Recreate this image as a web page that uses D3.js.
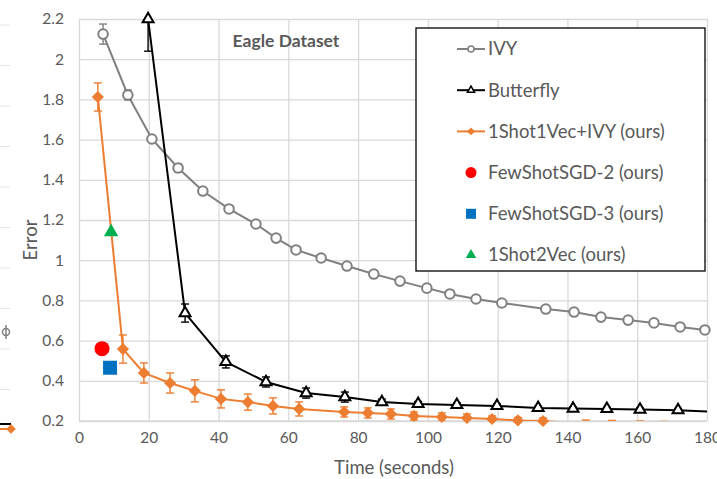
<!DOCTYPE html>
<html>
<head>
<meta charset="utf-8">
<script src="https://cdn.jsdelivr.net/npm/d3@7"></script>
<style>
  body { margin: 0; background: #fff; }
  text { font-family: Lato, "Liberation Sans", sans-serif; fill: #595959; }
</style>
</head>
<body>
<div id="chart"></div>
<script>
// ---------- DATA ----------
var ivyTime  = [6.9, 14.0, 20.9, 28.4, 35.5, 43.0, 50.7, 56.5, 62.2, 69.4, 76.8, 84.5, 92.0, 99.7, 106.3, 113.8, 121.2, 133.8, 141.9, 149.6, 157.4, 164.8, 172.3, 179.4];
var ivyError = [2.125, 1.822, 1.603, 1.459, 1.344, 1.255, 1.180, 1.110, 1.051, 1.011, 0.971, 0.931, 0.896, 0.861, 0.832, 0.807, 0.787, 0.757, 0.742, 0.717, 0.702, 0.688, 0.668, 0.653];
var ivyStd   = [0.05, 0.025, 0.01, 0.02, 0.015, 0.01, 0.01, 0.01, 0.01, 0.01, 0.01, 0.01, 0.01, 0.01, 0.01, 0.01, 0.01, 0.01, 0.01, 0.01, 0.01, 0.01, 0.01, 0.01];

var bflyTime  = [19.8, 30.4, 42.1, 53.6, 65.1, 76.2, 86.8, 97.2, 108.3, 119.8, 131.6, 141.6, 151.3, 160.8, 171.7, 185];
var bflyError = [2.2, 0.737, 0.494, 0.394, 0.339, 0.319, 0.294, 0.285, 0.280, 0.275, 0.265, 0.262, 0.26, 0.257, 0.254, 0.243];
var bflyStd   = [0.16, 0.045, 0.03, 0.025, 0.025, 0.025, 0.015, 0.012, 0.01, 0.01, 0.008, 0.008, 0.008, 0.008, 0.008, 0];

var oursTime  = [5.4, 12.6, 18.6, 26.1, 33.2, 40.7, 48.4, 55.6, 63.1, 76.0, 82.8, 89.4, 96.0, 104.0, 111.2, 118.4, 125.8, 133.0, 145.3, 152.8, 160.8, 167.9, 175.4];
var oursError = [1.812, 0.558, 0.439, 0.389, 0.35, 0.31, 0.294, 0.275, 0.26, 0.245, 0.24, 0.235, 0.225, 0.22, 0.215, 0.21, 0.203, 0.2, 0.185, 0.183, 0.18, 0.178, 0.176];
var oursStd   = [0.07, 0.07, 0.05, 0.05, 0.055, 0.045, 0.04, 0.04, 0.035, 0.025, 0.025, 0.025, 0.02, 0.02, 0.02, 0.015, 0.015, 0.015, 0.02, 0.02, 0.02, 0.02, 0.02];

var sgd2 = [6.6, 0.56];
var sgd3 = [8.9, 0.465];
var shot2vec = [9.2, 1.14];

var xTicks = [0, 20, 40, 60, 80, 100, 120, 140, 160, 180];
var yTicks = [0.2, 0.4, 0.6, 0.8, 1, 1.2, 1.4, 1.6, 1.8, 2, 2.2];
var legendNames = ['IVY', 'Butterfly', '1Shot1Vec+IVY (ours)', 'FewShotSGD-2 (ours)', 'FewShotSGD-3 (ours)', '1Shot2Vec (ours)'];

// ---------- SVG ----------
var svgWidth = 717;
var svgHeight = 479;
var chartMargin = { top: 19, right: 10, bottom: 58, left: 79 };
var chartWidth = 628;
var chartHeight = 402;

var svg = d3.select('#chart')
    .append('svg')
    .attr('width', svgWidth)
    .attr('height', svgHeight);

// pieces of the neighbouring chart that got cropped in on the left
var stub = svg.append('g');
for (var i = 0; i < 10; i++) {
    stub.append('line')
        .attr('x1', 0).attr('x2', 10)
        .attr('y1', 25 + i * 40.5).attr('y2', 25 + i * 40.5)
        .attr('stroke', '#e3e3e3').attr('stroke-width', 1);
}
stub.append('circle').attr('cx', 6).attr('cy', 332).attr('r', 3.5)
    .attr('fill', 'white').attr('stroke', '#7f7f7f').attr('stroke-width', 1.5);
stub.append('line').attr('x1', 6).attr('x2', 6).attr('y1', 325).attr('y2', 339)
    .attr('stroke', '#7f7f7f').attr('stroke-width', 1.5);
stub.append('line').attr('x1', 0).attr('x2', 11).attr('y1', 424).attr('y2', 424)
    .attr('stroke', 'black').attr('stroke-width', 2);
stub.append('line').attr('x1', 0).attr('x2', 11).attr('y1', 429).attr('y2', 429)
    .attr('stroke', '#ED7D31').attr('stroke-width', 2);
stub.append('path').attr('d', d3.symbol(d3.symbolDiamond2, 60)())
    .attr('transform', 'translate(11,429)').attr('fill', '#ED7D31');

var chartGroup = svg.append('g')
    .attr('transform', `translate(${chartMargin.left}, ${chartMargin.top})`);

var xScale = d3.scaleLinear().domain([0, 180]).range([0, chartWidth]);
var yScale = d3.scaleLinear().domain([0.2, 2.2]).range([chartHeight, 0]);

// grid + axes
var bottomAxis = d3.axisBottom(xScale).tickValues(xTicks).tickSize(-chartHeight).tickPadding(11).tickFormat(d3.format('d'));
var leftAxis = d3.axisLeft(yScale).tickValues(yTicks).tickSize(-chartWidth).tickPadding(15).tickFormat(d => d3.format('')(+d.toFixed(1)));

var gx = chartGroup.append('g')
    .attr('transform', `translate(0, ${chartHeight})`)
    .call(bottomAxis);
var gy = chartGroup.append('g').call(leftAxis);
[gx, gy].forEach(function (g) {
    g.select('.domain').remove();
    g.selectAll('.tick line').attr('stroke', '#d9d9d9').attr('stroke-width', 1.3);
    g.selectAll('.tick text').style('font-size', '15.5px').style('font-family', 'Lato, sans-serif').attr('fill', '#595959');
});
chartGroup.append('line')
    .attr('x1', 0).attr('x2', chartWidth).attr('y1', chartHeight).attr('y2', chartHeight)
    .attr('stroke', '#d9d9d9').attr('stroke-width', 1.3);

// axis titles
svg.append('text')
    .attr('x', 394).attr('y', 474)
    .attr('text-anchor', 'middle').style('font-size', '18.5px')
    .text('Time (seconds)');
svg.append('text')
    .attr('transform', 'translate(37, 240) rotate(-90)')
    .attr('text-anchor', 'middle').style('font-size', '18.5px')
    .text('Error');
svg.append('text')
    .attr('x', 286).attr('y', 47)
    .attr('text-anchor', 'middle').style('font-size', '17.5px').style('font-weight', 'bold')
    .text('Eagle Dataset');

// clip
svg.append('defs').append('clipPath').attr('id', 'plotClip')
    .append('rect').attr('x', 0).attr('y', 0).attr('width', chartWidth).attr('height', chartHeight);

function zip(xs, ys, es) {
    return xs.map((x, i) => ({ x: x, y: ys[i], e: es[i] }));
}
var ivy = zip(ivyTime, ivyError, ivyStd);
var bfly = zip(bflyTime, bflyError, bflyStd);
var ours = zip(oursTime, oursError, oursStd);

var line = d3.line().x(d => xScale(d.x)).y(d => yScale(d.y));

function drawSeries(data, color, width) {
    var clipped = chartGroup.append('g').attr('clip-path', 'url(#plotClip)');
    clipped.append('path')
        .datum(data)
        .attr('d', line)
        .attr('fill', 'none')
        .attr('stroke', color)
        .attr('stroke-width', width);
    var bars = clipped.selectAll(null)
        .data(data.filter(d => d.e > 0))
        .enter().append('g')
        .attr('stroke', color).attr('stroke-width', 1.4);
    bars.append('line')
        .attr('x1', d => xScale(d.x)).attr('x2', d => xScale(d.x))
        .attr('y1', d => yScale(d.y + d.e)).attr('y2', d => yScale(d.y - d.e));
    bars.append('line')
        .attr('x1', d => xScale(d.x) - 4).attr('x2', d => xScale(d.x) + 4)
        .attr('y1', d => yScale(d.y + d.e)).attr('y2', d => yScale(d.y + d.e));
    bars.append('line')
        .attr('x1', d => xScale(d.x) - 4).attr('x2', d => xScale(d.x) + 4)
        .attr('y1', d => yScale(d.y - d.e)).attr('y2', d => yScale(d.y - d.e));
}
function inside(d) { return d.x <= 180 && d.y >= 0.2 && d.y <= 2.2; }

drawSeries(ivy, '#808080', 2);
drawSeries(bfly, '#000000', 2);
drawSeries(ours, '#ED7D31', 2);

// markers
chartGroup.selectAll('.ivyPt')
    .data(ivy.filter(inside)).enter()
    .append('circle')
    .attr('cx', d => xScale(d.x)).attr('cy', d => yScale(d.y)).attr('r', 4.8)
    .attr('fill', 'white').attr('stroke', '#808080').attr('stroke-width', 2);

var tri = d3.symbol(d3.symbolTriangle, 52)();
chartGroup.selectAll('.bflyPt')
    .data(bfly.filter(inside)).enter()
    .append('path')
    .attr('d', tri)
    .attr('transform', d => `translate(${xScale(d.x)}, ${yScale(d.y)})`)
    .attr('fill', 'white').attr('stroke', 'black').attr('stroke-width', 2);

var dia = d3.symbol(d3.symbolDiamond2, 95)();
chartGroup.selectAll('.oursPt')
    .data(ours.filter(inside)).enter()
    .append('path')
    .attr('d', dia)
    .attr('transform', d => `translate(${xScale(d.x)}, ${yScale(d.y)})`)
    .attr('fill', '#ED7D31');

chartGroup.append('circle')
    .attr('cx', xScale(sgd2[0])).attr('cy', yScale(sgd2[1])).attr('r', 7.5)
    .attr('fill', '#FF0000');
chartGroup.append('rect')
    .attr('x', xScale(sgd3[0]) - 7).attr('y', yScale(sgd3[1]) - 7)
    .attr('width', 14).attr('height', 14)
    .attr('fill', '#0070C0');
chartGroup.append('path')
    .attr('d', d3.symbol(d3.symbolTriangle2, 150)())
    .attr('transform', `translate(${xScale(shot2vec[0])}, ${yScale(shot2vec[1])})`)
    .attr('fill', '#00B050');

// ---------- LEGEND ----------
var legend = svg.append('g');
legend.append('rect')
    .attr('x', 416).attr('y', 28).attr('width', 289).attr('height', 243)
    .attr('fill', 'white').attr('stroke', 'black').attr('stroke-width', 1.3);

var legendY = d3.scalePoint().domain(legendNames).range([49, 255]);
var items = legend.selectAll('.item')
    .data(legendNames).enter()
    .append('g')
    .attr('transform', d => `translate(0, ${legendY(d)})`);
items.append('text')
    .attr('x', 488).attr('y', 0).attr('dy', '0.35em')
    .style('font-size', '18.5px')
    .text(d => d);

var lineColors = ['#808080', '#000000', '#ED7D31'];
items.filter((d, i) => i < 3)
    .append('line')
    .attr('x1', 457).attr('x2', 485).attr('y1', 0).attr('y2', 0)
    .attr('stroke', (d, i) => lineColors[i]).attr('stroke-width', 2);
items.filter((d, i) => i === 0).append('circle')
    .attr('cx', 471).attr('cy', 0).attr('r', 3)
    .attr('fill', 'white').attr('stroke', '#808080').attr('stroke-width', 1.5);
items.filter((d, i) => i === 1).append('path')
    .attr('d', d3.symbol(d3.symbolTriangle, 22)())
    .attr('transform', 'translate(471,0)')
    .attr('fill', 'white').attr('stroke', 'black').attr('stroke-width', 1.5);
items.filter((d, i) => i === 2).append('path')
    .attr('d', d3.symbol(d3.symbolDiamond2, 40)())
    .attr('transform', 'translate(471,0)')
    .attr('fill', '#ED7D31');
items.filter((d, i) => i === 3).append('circle')
    .attr('cx', 471).attr('cy', 0).attr('r', 5.5).attr('fill', '#FF0000');
items.filter((d, i) => i === 4).append('rect')
    .attr('x', 466).attr('y', -5).attr('width', 10).attr('height', 10).attr('fill', '#0070C0');
items.filter((d, i) => i === 5).append('path')
    .attr('d', d3.symbol(d3.symbolTriangle2, 80)())
    .attr('transform', 'translate(471,0)')
    .attr('fill', '#00B050');
</script>
</body>
</html>
